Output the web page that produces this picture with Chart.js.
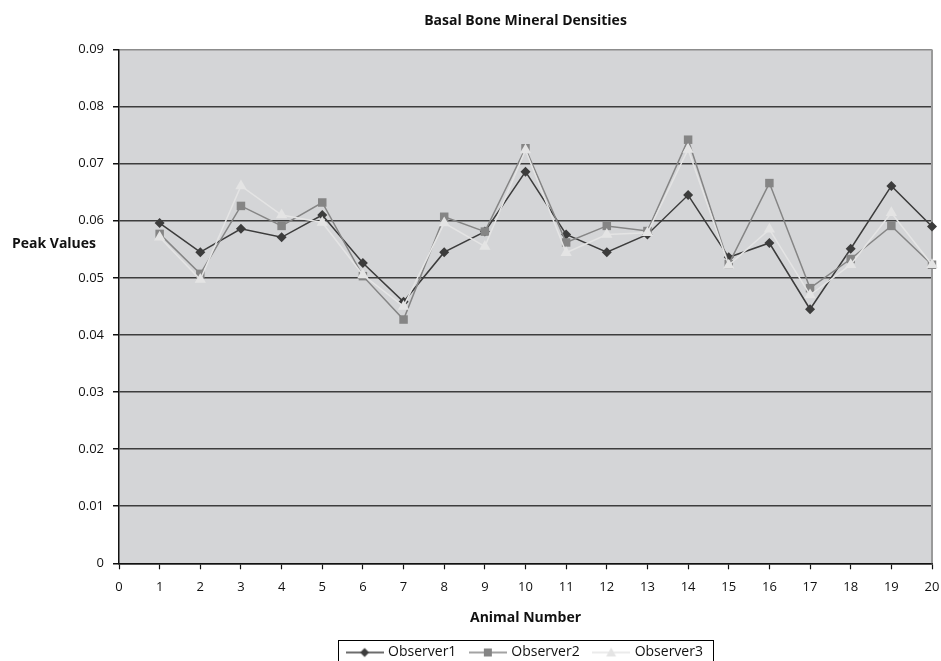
<!DOCTYPE html>
<html>
<head>
<meta charset="utf-8">
<script src="https://cdn.jsdelivr.net/npm/chart.js@4/dist/chart.umd.min.js"></script>
<style>
  html, body { margin: 0; padding: 0; background: #ffffff; overflow: hidden; }
  canvas { display: block; }
</style>
</head>
<body>
<canvas id="bmd" width="941" height="661"></canvas>
<script>
// Basal bone mineral density peak values per animal, read by three observers
const animals = [1, 2, 3, 4, 5, 6, 7, 8, 9, 10, 11, 12, 13, 14, 15, 16, 17, 18, 19, 20];
const observer1 = [0.0596, 0.0545, 0.0586, 0.0571, 0.0610, 0.0526, 0.0458, 0.0545, 0.0581, 0.0686,
                   0.0576, 0.0545, 0.0576, 0.0645, 0.0536, 0.0561, 0.0445, 0.0551, 0.0661, 0.0590];
const observer2 = [0.0577, 0.0507, 0.0626, 0.0591, 0.0632, 0.0503, 0.0427, 0.0607, 0.0581, 0.0727,
                   0.0562, 0.0591, 0.0582, 0.0742, 0.0524, 0.0666, 0.0482, 0.0533, 0.0591, 0.0523];
const observer3 = [0.0571, 0.0497, 0.0661, 0.0610, 0.0597, 0.0505, 0.0450, 0.0596, 0.0555, 0.0724,
                   0.0544, 0.0576, 0.0579, 0.0725, 0.0522, 0.0585, 0.0470, 0.0523, 0.0614, 0.0523];
const seriesNames = ['Observer1', 'Observer2', 'Observer3'];
const yTickLabels = ['0', '0.01', '0.02', '0.03', '0.04', '0.05', '0.06', '0.07', '0.08', '0.09'];
const xTickLabels = ['0', '1', '2', '3', '4', '5', '6', '7', '8', '9', '10',
                     '11', '12', '13', '14', '15', '16', '17', '18', '19', '20'];

const FONT = "'Open Sans', 'Noto Sans', sans-serif";
const COLORS = ['#3c3c3c', '#858585', '#e4e4e4'];
const STYLES = ['rectRot', 'rect', 'triangle'];
const RADII = [5, 6, 6.5];

Chart.defaults.font.family = FONT;
Chart.defaults.color = '#111111';

function toPoints(values) {
  return animals.map((a, i) => ({ x: a, y: values[i] }));
}

// Legend swatch: short line with the series marker in its middle
function legendSwatch(color, style) {
  const c = document.createElement('canvas');
  c.width = 38; c.height = 14;
  const g = c.getContext('2d');
  g.strokeStyle = color;
  g.lineWidth = 1.5;
  g.beginPath(); g.moveTo(0, 7); g.lineTo(38, 7); g.stroke();
  g.fillStyle = color;
  g.beginPath();
  if (style === 'rectRot') {
    g.moveTo(19, 2.5); g.lineTo(23.5, 7); g.lineTo(19, 11.5); g.lineTo(14.5, 7);
  } else if (style === 'rect') {
    g.rect(15, 3, 8, 8);
  } else {
    g.moveTo(19, 2); g.lineTo(24, 11); g.lineTo(14, 11);
  }
  g.closePath();
  g.fill();
  return c;
}
const swatches = COLORS.map((c, i) => legendSwatch(c, STYLES[i]));

function makeDataset(label, values, i) {
  return {
    label: label,
    data: toPoints(values),
    borderColor: COLORS[i],
    backgroundColor: COLORS[i],
    pointBackgroundColor: COLORS[i],
    pointBorderColor: COLORS[i],
    pointStyle: STYLES[i],
    pointRadius: RADII[i],
    pointBorderWidth: 0,
    borderWidth: 1.5,
    tension: 0,
    clip: false,
    order: 3 - i
  };
}

// Grey plot background, grey right frame
const plotFrame = {
  id: 'plotFrame',
  beforeDraw(chart) {
    const { ctx, chartArea: a } = chart;
    ctx.save();
    ctx.fillStyle = '#d4d5d7';
    ctx.fillRect(a.left, a.top, a.right - a.left, a.bottom - a.top);
    ctx.restore();
  },
  beforeDatasetsDraw(chart) {
    const { ctx, chartArea: a } = chart;
    ctx.save();
    ctx.strokeStyle = '#9a9a9a';
    ctx.lineWidth = 2;
    ctx.beginPath();
    ctx.moveTo(a.right, a.top);
    ctx.lineTo(a.right, a.bottom);
    ctx.stroke();
    ctx.restore();
  }
};

// Horizontal y-axis title at the left, and a frame around the legend
const extras = {
  id: 'extras',
  afterDraw(chart) {
    const { ctx, chartArea: a } = chart;
    ctx.save();
    ctx.font = 'bold 14px ' + FONT;
    ctx.fillStyle = '#111111';
    ctx.textAlign = 'center';
    ctx.textBaseline = 'middle';
    ctx.fillText('Peak Values', chart.scales.y.left + 54, a.top + (a.bottom - a.top) * 0.378);

    const boxes = chart.legend.legendHitBoxes;
    if (boxes && boxes.length) {
      const first = boxes[0];
      const last = boxes[boxes.length - 1];
      const left = Math.round(first.left - 10) + 0.5;
      const right = Math.round(last.left + last.width + 10) + 0.5;
      const top = Math.round(first.top - 6) + 0.5;
      ctx.strokeStyle = '#000000';
      ctx.lineWidth = 1;
      ctx.strokeRect(left, top, right - left, chart.height + 10 - top);
    }
    ctx.restore();
  }
};

new Chart(document.getElementById('bmd'), {
  type: 'line',
  data: {
    datasets: [
      makeDataset(seriesNames[0], observer1, 0),
      makeDataset(seriesNames[1], observer2, 1),
      makeDataset(seriesNames[2], observer3, 2)
    ]
  },
  options: {
    responsive: false,
    animation: false,
    devicePixelRatio: 1,
    layout: { padding: { left: 0, right: 1, top: 0, bottom: -8.5 } },
    plugins: {
      title: {
        display: true,
        text: 'Basal Bone Mineral Densities',
        fullSize: false,
        color: '#111111',
        font: { size: 14, weight: 'bold', family: FONT },
        padding: { top: 12.6, bottom: 20.1 }
      },
      legend: {
        position: 'bottom',
        fullSize: false,
        labels: {
          usePointStyle: true,
          pointStyleWidth: 33,
          padding: 15,
          color: '#111111',
          font: { size: 14, family: FONT },
          generateLabels(chart) {
            const items = Chart.defaults.plugins.legend.labels.generateLabels(chart);
            items.sort((p, q) => p.datasetIndex - q.datasetIndex);
            items.forEach(it => { it.pointStyle = swatches[it.datasetIndex]; });
            return items;
          }
        }
      },
      tooltip: { enabled: false }
    },
    scales: {
      x: {
        type: 'linear',
        min: 0,
        max: 20,
        afterFit(scale) { scale.paddingRight = 9; },
        ticks: {
          stepSize: 1,
          padding: 9.7,
          font: { size: 13 },
          color: '#111111',
          callback: (v, i) => xTickLabels[i]
        },
        grid: {
          display: true,
          drawOnChartArea: false,
          drawTicks: true,
          tickLength: 6,
          tickColor: '#111111',
          tickWidth: 1.2
        },
        border: { display: true, color: '#111111', width: 1.5 },
        title: {
          display: true,
          text: 'Animal Number',
          color: '#111111',
          font: { size: 14, weight: 'bold' },
          padding: { top: 5.8, bottom: 3.6 }
        }
      },
      y: {
        min: 0,
        max: 0.09,
        afterFit(scale) { scale.width = 119; },
        ticks: {
          stepSize: 0.01,
          padding: 9,
          font: { size: 13 },
          color: '#111111',
          callback: (v, i) => yTickLabels[i]
        },
        grid: {
          drawTicks: true,
          tickLength: 6,
          tickColor: '#111111',
          color: ctx => (ctx.index === yTickLabels.length - 1 ? '#8c8c8c' : '#3d3d3d'),
          lineWidth: 1.5
        },
        border: { display: true, color: '#111111', width: 1.5 }
      }
    }
  },
  plugins: [plotFrame, extras]
});
</script>
</body>
</html>
